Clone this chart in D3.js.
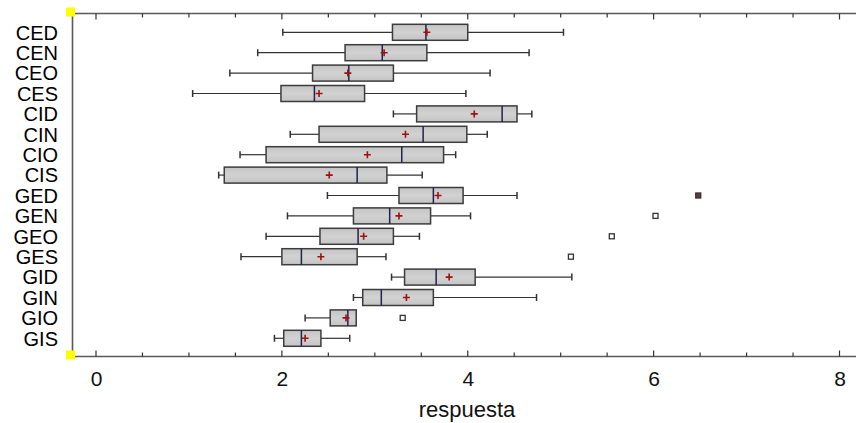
<!DOCTYPE html>
<html>
<head>
<meta charset="utf-8">
<script src="https://cdn.jsdelivr.net/npm/d3@7"></script>
<style>
  body { margin: 0; background: #fff; }
  svg { display: block; font-family: "Liberation Sans", Arial, sans-serif; }
</style>
</head>
<body>
<svg id="chart" width="856" height="423"></svg>
<script>
// data
const groups   = ["CED","CEN","CEO","CES","CID","CIN","CIO","CIS","GED","GEN","GEO","GES","GID","GIN","GIO","GIS"];
const whiskLo  = [2.01, 1.74, 1.44, 1.04, 3.20, 2.09, 1.55, 1.32, 2.49, 2.06, 1.83, 1.56, 3.18, 2.77, 2.25, 1.92];
const q1       = [3.19, 2.68, 2.33, 1.99, 3.45, 2.40, 1.83, 1.38, 3.26, 2.77, 2.41, 2.00, 3.32, 2.87, 2.52, 2.02];
const medians  = [3.55, 3.08, 2.72, 2.35, 4.37, 3.52, 3.29, 2.81, 3.63, 3.16, 2.82, 2.21, 3.66, 3.07, 2.71, 2.21];
const means    = [3.56, 3.10, 2.71, 2.40, 4.07, 3.33, 2.92, 2.51, 3.68, 3.26, 2.88, 2.42, 3.80, 3.34, 2.69, 2.25];
const q3       = [4.00, 3.56, 3.20, 2.89, 4.53, 3.99, 3.74, 3.13, 3.95, 3.60, 3.20, 2.81, 4.08, 3.63, 2.80, 2.42];
const whiskHi  = [5.03, 4.66, 4.24, 3.98, 4.69, 4.21, 3.87, 3.51, 4.53, 4.03, 3.48, 3.12, 5.12, 4.74, 2.80, 2.73];
// outliers: [group, value, far?]
const outliers = [["GED", 6.48, true], ["GEN", 6.02, false], ["GEO", 5.55, false], ["GES", 5.11, false], ["GIO", 3.30, false]];
const xTicks   = [0, 2, 4, 6, 8];

const rows = groups.map((g, i) => ({
  g, lo: whiskLo[i], q1: q1[i], med: medians[i], mean: means[i], q3: q3[i], hi: whiskHi[i]
}));

// ----------------------
// layout
// ----------------------
const svg = d3.select("#chart");
const plotLeft = 72.5, plotRight = 856, plotTop = 13.5, plotBottom = 356.5;

const x = d3.scaleLinear().domain([0, 8]).range([96, 839.5]);
const y = d3.scalePoint().domain(groups).range([32.3, 338.3]);
const boxH = 16;
const frame = "#5a5a5a";

// frame: top and left lines, bottom axis
svg.append("line").attr("x1", plotLeft).attr("x2", plotRight).attr("y1", plotTop).attr("y2", plotTop)
  .attr("stroke", frame).attr("stroke-width", 1.6);
svg.append("line").attr("x1", plotLeft).attr("x2", plotLeft).attr("y1", plotTop).attr("y2", plotBottom)
  .attr("stroke", frame).attr("stroke-width", 1.6);

const bottomAxis = svg.append("g")
  .attr("transform", `translate(0,${plotBottom})`)
  .call(d3.axisBottom(x).tickValues(xTicks).tickSize(0).tickPadding(15).tickFormat(d3.format("d")));
bottomAxis.select(".domain").remove();
bottomAxis.selectAll("text").attr("font-size", 21).attr("fill", "#111")
  .attr("font-family", "Liberation Sans, Arial, sans-serif");
svg.append("line").attr("x1", plotLeft).attr("x2", plotRight).attr("y1", plotBottom).attr("y2", plotBottom)
  .attr("stroke", frame).attr("stroke-width", 1.6);

// inward ticks every 0.5 on top and bottom
const minor = d3.range(0, 8.01, 0.5);
svg.append("g").selectAll("line").data(minor).join("line")
  .attr("x1", d => x(d)).attr("x2", d => x(d))
  .attr("y1", plotBottom).attr("y2", d => plotBottom - (d % 2 === 0 ? 6 : 4))
  .attr("stroke", "#333").attr("stroke-width", 1.2);
svg.append("g").selectAll("line").data(minor).join("line")
  .attr("x1", d => x(d)).attr("x2", d => x(d))
  .attr("y1", plotTop).attr("y2", d => plotTop + (d % 2 === 0 ? 6 : 4))
  .attr("stroke", "#333").attr("stroke-width", 1.2);

// category labels
svg.append("g").selectAll("text").data(groups).join("text")
  .attr("x", 58).attr("y", d => y(d)).attr("dy", "0.36em")
  .attr("text-anchor", "end").attr("font-size", 20).attr("fill", "#000")
  .text(d => d);

// axis title
svg.append("text").attr("x", 467).attr("y", 417)
  .attr("text-anchor", "middle").attr("font-size", 22).attr("fill", "#111")
  .text("respuesta");

// box gradient
const defs = svg.append("defs");
const grad = defs.append("linearGradient").attr("id", "boxfill").attr("x1", 0).attr("x2", 0).attr("y1", 0).attr("y2", 1);
grad.append("stop").attr("offset", "0%").attr("stop-color", "#c4c4c4");
grad.append("stop").attr("offset", "50%").attr("stop-color", "#d2d2d2");
grad.append("stop").attr("offset", "100%").attr("stop-color", "#c4c4c4");

// ----------------------
// boxes
// ----------------------
const bx = svg.append("g").selectAll("g").data(rows).join("g")
  .attr("transform", d => `translate(0,${y(d.g)})`);

// whiskers
bx.append("line").attr("x1", d => x(d.lo)).attr("x2", d => x(d.q1)).attr("y1", 0).attr("y2", 0)
  .attr("stroke", "#333").attr("stroke-width", 1.2);
bx.append("line").attr("x1", d => x(d.q3)).attr("x2", d => x(d.hi)).attr("y1", 0).attr("y2", 0)
  .attr("stroke", "#333").attr("stroke-width", 1.2);
bx.filter(d => d.lo < d.q1).append("line").attr("x1", d => x(d.lo)).attr("x2", d => x(d.lo))
  .attr("y1", -3.5).attr("y2", 3.5).attr("stroke", "#333").attr("stroke-width", 1.5);
bx.filter(d => d.hi > d.q3).append("line").attr("x1", d => x(d.hi)).attr("x2", d => x(d.hi))
  .attr("y1", -3.5).attr("y2", 3.5).attr("stroke", "#333").attr("stroke-width", 1.5);

// box
bx.append("rect")
  .attr("x", d => x(d.q1)).attr("y", -boxH / 2)
  .attr("width", d => x(d.q3) - x(d.q1)).attr("height", boxH)
  .attr("fill", "url(#boxfill)").attr("stroke", "#3c3c3c").attr("stroke-width", 1.5);

// median
bx.append("line").attr("x1", d => x(d.med)).attr("x2", d => x(d.med))
  .attr("y1", -boxH / 2).attr("y2", boxH / 2)
  .attr("stroke", "#222250").attr("stroke-width", 1.5);

// mean plus
bx.append("path")
  .attr("d", d => `M${x(d.mean) - 3.5},0H${x(d.mean) + 3.5}M${x(d.mean)},-3.5V3.5`)
  .attr("stroke", "#a01010").attr("stroke-width", 1.6);

// outliers
svg.append("g").selectAll("rect").data(outliers).join("rect")
  .attr("x", d => x(d[1]) - 2.5).attr("y", d => y(d[0]) - 2.5)
  .attr("width", 5).attr("height", 5)
  .attr("fill", d => d[2] ? "#6a3a3a" : "#fff")
  .attr("stroke", "#333").attr("stroke-width", 1.3);

// yellow selection handles
svg.append("g").selectAll("rect").data([plotTop, plotBottom]).join("rect")
  .attr("x", 66).attr("y", d => d - 6).attr("width", 9).attr("height", 9)
  .attr("fill", "#ffff00");
</script>
</body>
</html>
